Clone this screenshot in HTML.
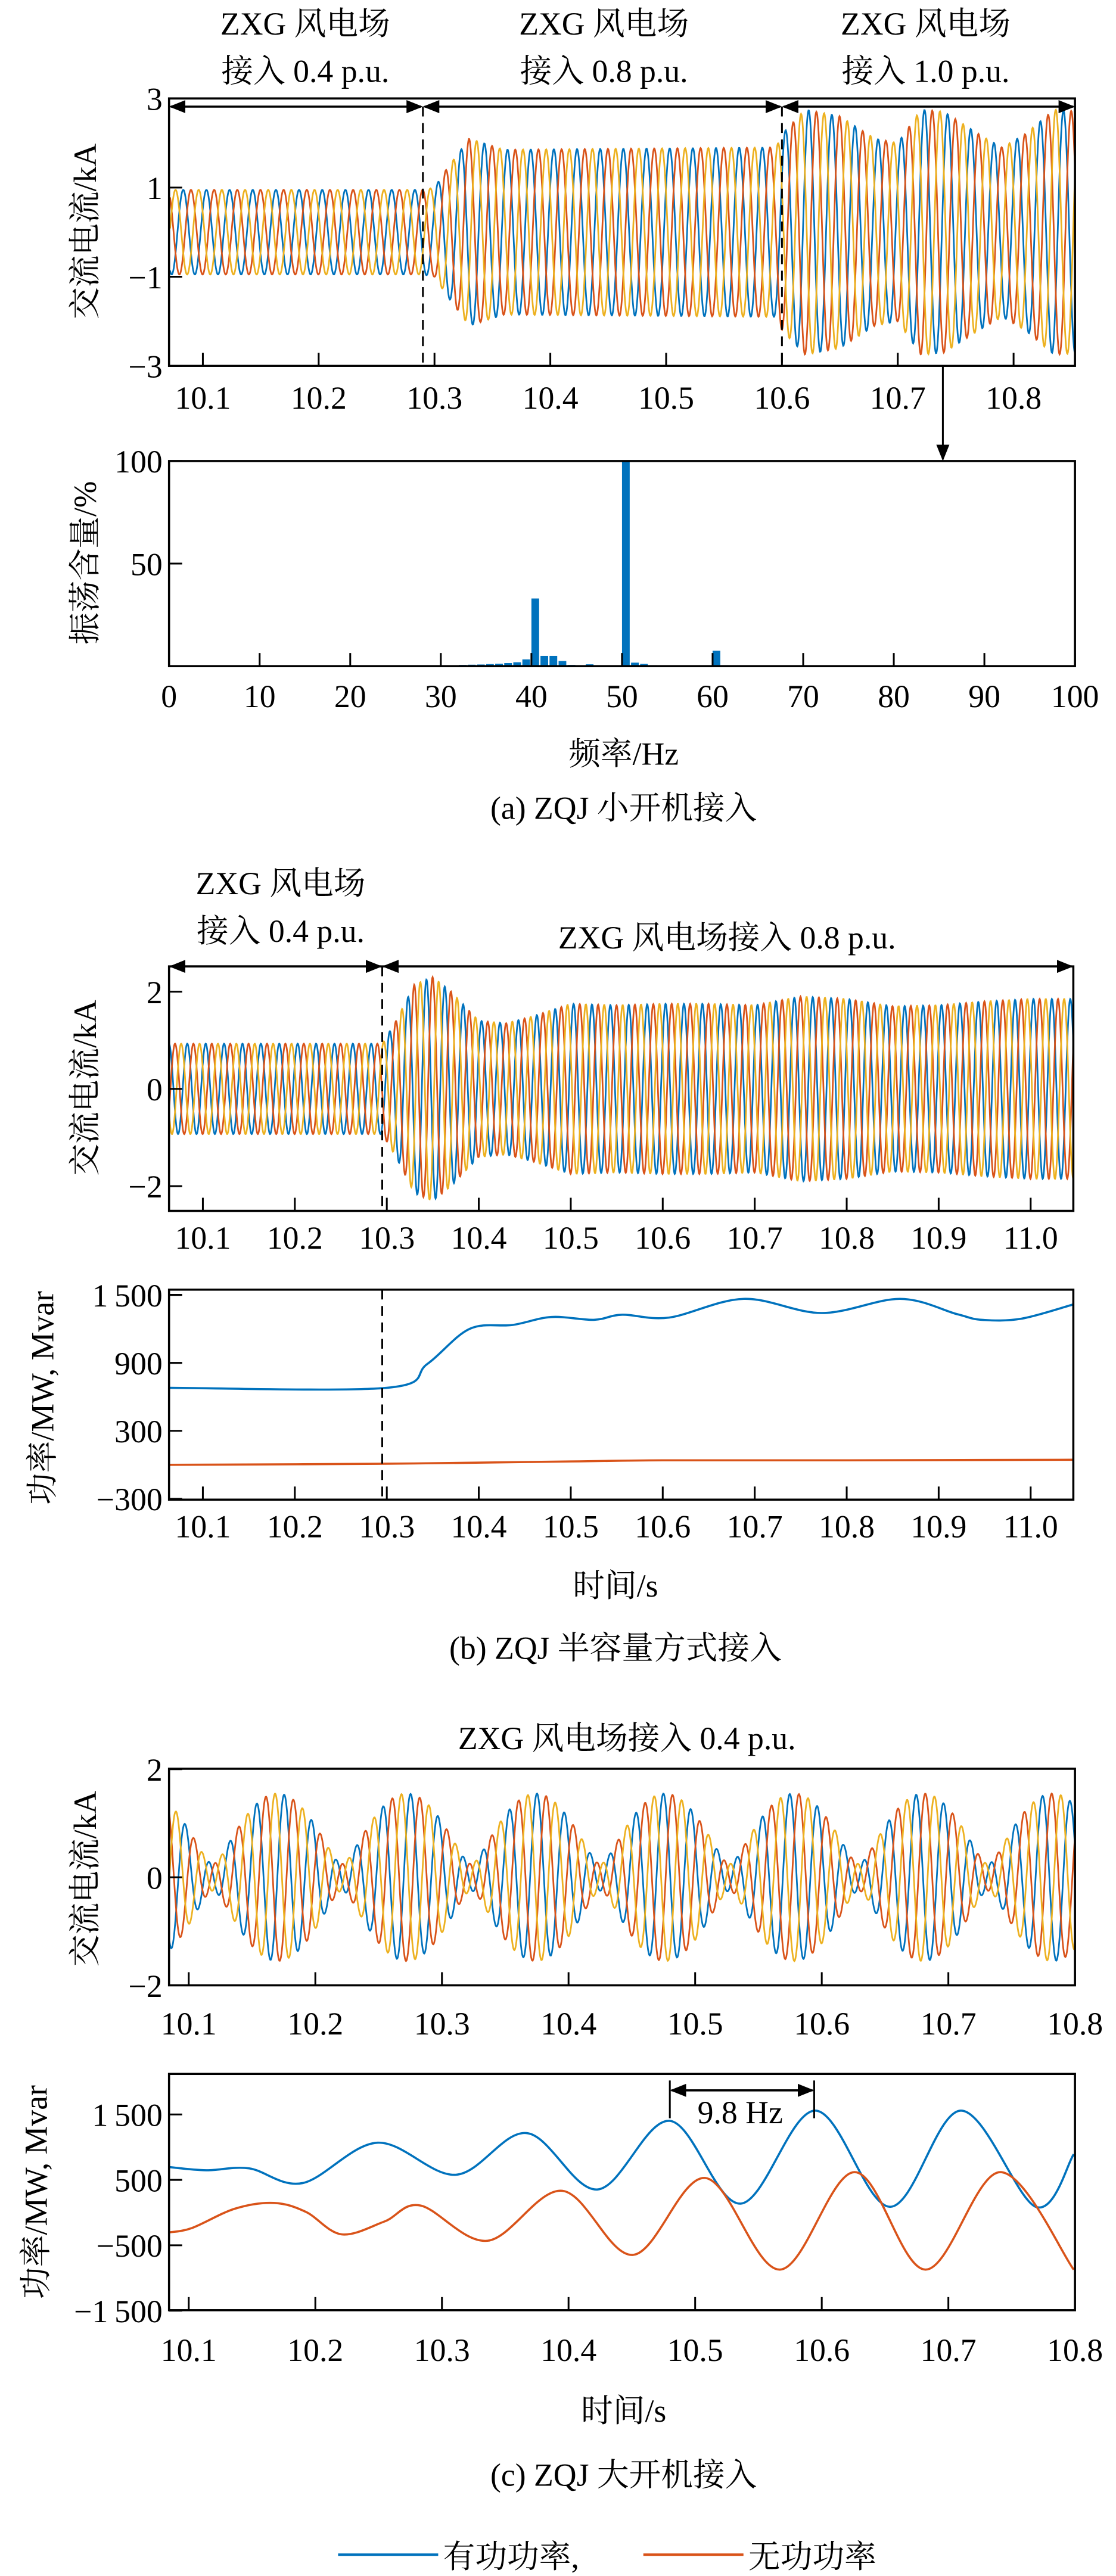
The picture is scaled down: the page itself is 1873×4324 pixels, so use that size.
<!DOCTYPE html>
<html><head><meta charset="utf-8"><style>
html,body{margin:0;padding:0;background:#fff;}
svg{display:block;font-family:"Liberation Serif","Noto Serif CJK SC",serif;}
svg text{font-family:"Liberation Serif","Noto Serif CJK SC",serif;fill:#000;font-size:19.5px;}
</style></head><body>
<svg id="fig" xmlns="http://www.w3.org/2000/svg" width="1873" height="4324" viewBox="0 0 680 1570" preserveAspectRatio="none" font-family="Liberation Serif, Noto Serif CJK SC, serif">
<defs>
<marker id="ah" markerWidth="10" markerHeight="8" refX="9" refY="4" orient="auto-start-reverse" markerUnits="userSpaceOnUse"><path d="M0,0 L10,4 L0,8 z" fill="#000"/></marker>
<clipPath id="cpA"><rect x="103" y="60" width="552" height="163"/></clipPath>
<clipPath id="cpB"><rect x="103" y="589" width="551" height="149"/></clipPath>
<clipPath id="cpC"><rect x="103" y="1078" width="552" height="132"/></clipPath>
</defs>
</svg>
<script>
// ---------- DATA ----------
const aTicksX=[10.1,10.2,10.3,10.4,10.5,10.6,10.7,10.8];
const aTicksY=[3,1,-1,-3];
const aEnvT=[10.07,10.29,10.3,10.31,10.33,10.36,10.595,10.6,10.62,10.65,10.68,10.7,10.72,10.74,10.77,10.79,10.81,10.835,10.86];
const aEnvA=[0.95,0.95,1.0,1.4,2.1,1.85,1.9,2.2,2.75,2.6,2.1,2.0,2.75,2.7,2.2,1.9,2.2,2.75,2.7];
const aDash=[10.29,10.6];
const fftFreq=[29,30,31,32,33,34,35,36,37,38,39,40,41,42,43,44,45,46,47,48,49,50,51,52,53,54,55,56,60,61,62,63];
const fftVal=[0.3,0.3,0.4,0.6,0.7,0.8,1.0,1.2,1.5,1.9,3.3,33,5,5,2.5,0.6,0.4,0.9,0.4,0.3,0.3,100,1.7,1.1,0.5,0.3,0.3,0.2,7.5,0.5,0.2,0.3];
const fftTicksX=[0,10,20,30,40,50,60,70,80,90,100];
const fftTicksY=[100,50];
const bTicksX=[10.1,10.2,10.3,10.4,10.5,10.6,10.7,10.8,10.9,11.0];
const bTicksY=[2,0,-2];
const bEnvT=[10.06,10.295,10.31,10.33,10.35,10.37,10.4,10.43,10.46,10.5,10.55,10.6,10.65,10.7,10.75,10.8,10.85,10.9,10.95,11.0,11.05];
const bEnvA=[0.93,0.93,1.4,2.15,2.3,2.0,1.4,1.35,1.5,1.75,1.72,1.75,1.75,1.72,1.9,1.85,1.7,1.72,1.8,1.85,1.85];
const bPTicksY=[1500,900,300,-300];
const bPT=[10.063,10.3,10.344,10.39,10.437,10.479,10.525,10.556,10.607,10.688,10.773,10.858,10.92,10.947,10.99,11.046];
const bPVal=[680,680,890,1200,1235,1305,1280,1325,1300,1465,1340,1465,1330,1280,1290,1415];
const bQT=[10.063,10.3,10.5,10.6,10.8,11.046];
const bQVal=[0,10,30,40,40,45];
const cTicksX=[10.1,10.2,10.3,10.4,10.5,10.6,10.7,10.8];
const cTicksY=[2,0,-2];
const cFreq=[50,40.2];
const cAmp=[0.9,0.65];
const cPTicksY=[1500,500,-500,-1500];
const cPT=[10.0842,10.1139,10.1477,10.19,10.249,10.311,10.367,10.423,10.48,10.536,10.595,10.654,10.71,10.769,10.799];
const cPVal=[696,647,676,451,1068,578,1215,353,1402,137,1559,88,1559,88,892];
const cQT=[10.0842,10.1027,10.1364,10.1673,10.1926,10.2207,10.2545,10.283,10.336,10.395,10.451,10.508,10.567,10.626,10.682,10.741,10.799];
const cQVal=[-304,-235,59,147,10,-333,-137,108,-431,333,-647,529,-872,618,-872,618,-872];
const hzMarks=[10.48,10.594];
// ---------- HELPERS ----------
const NS='http://www.w3.org/2000/svg';
const svg=document.getElementById('fig');
const COL=['#0072BD','#D95319','#EDB120'];
function el(tag,attrs,parent){const e=document.createElementNS(NS,tag);for(const k in attrs)e.setAttribute(k,attrs[k]);(parent||svg).appendChild(e);return e;}
function lin(d0,d1,r0,r1){return v=>r0+(v-d0)*(r1-r0)/(d1-d0);}
function txt(s,x,y,anchor,parent,name,rot){const t=el('text',{x:x,y:y,'text-anchor':anchor||'middle'},parent);t.textContent=s;


if(rot){t.setAttribute('transform','rotate(-90 '+x+' '+y+')');t.setAttribute('dominant-baseline','central');}return t;}
function fmt(v){let s=Math.abs(v)>=1000?(Math.abs(v)+'').replace(/(\d)(\d{3})$/,'$1\u2009$2'):Math.abs(v)+'';return (v<0?'\u2212':'')+s;}
function interp(T,A,t){if(t<=T[0])return A[0];for(let i=1;i<T.length;i++){if(t<=T[i]){const f=(t-T[i-1])/(T[i]-T[i-1]);return A[i-1]+f*(A[i]-A[i-1]);}}return A[A.length-1];}
function axesBox(g,x0,y0,x1,y1,xs,ys,xt,yt,xLabY,name,xfmt){
 const r=el('rect',{x:x0,y:y0,width:x1-x0,height:y1-y0,fill:'none',stroke:'#000','stroke-width':1.3},g);
 
 
 xt.forEach(v=>{const x=xs(v);el('line',{x1:x,x2:x,y1:y1,y2:y1-8,stroke:'#000','stroke-width':1.1},g);
  txt(xfmt?xfmt(v):v.toFixed(1),x,xLabY,'middle',g,name+'-x-tick-label');});
 yt.forEach(v=>{const y=ys(v);el('line',{x1:x0,x2:x0+8,y1:y,y2:y,stroke:'#000','stroke-width':1.1},g);
  txt(fmt(v),x0-4,y+7,'end',g,name+'-y-tick-label');});
}
function smoothPath(pts){let d='M'+pts[0][0]+','+pts[0][1];for(let i=0;i<pts.length-1;i++){const p0=pts[i-1]||pts[i],p1=pts[i],p2=pts[i+1],p3=pts[i+2]||p2;
 const c1=[p1[0]+(p2[0]-p0[0])/6,p1[1]+(p2[1]-p0[1])/6],c2=[p2[0]-(p3[0]-p1[0])/6,p2[1]-(p3[1]-p1[1])/6];
 d+=' C'+c1[0].toFixed(2)+','+c1[1].toFixed(2)+' '+c2[0].toFixed(2)+','+c2[1].toFixed(2)+' '+p2[0].toFixed(2)+','+p2[1].toFixed(2);}return d;}
function waveEnv(g,xs,ys,t0,t1,T,A,clip,name){
 const names=['phase-a','phase-b','phase-c'];
 for(let p=0;p<3;p++){let d='';const ph=[0,-2*Math.PI/3,2*Math.PI/3][p];
  for(let t=t0;t<=t1;t+=0.0004){const v=interp(T,A,t)*Math.sin(2*Math.PI*50*t+ph+0.6);d+=(d?'L':'M')+xs(t).toFixed(2)+','+ys(v).toFixed(2);}
  const pa=el('path',{d:d,fill:'none',stroke:COL[p],'stroke-width':1.0,'clip-path':'url(#'+clip+')'},g);
  
  }
}
function arrowLine(g,x1,x2,y,name){const l=el('line',{x1:x1+1,x2:x2-1,y1:y,y2:y,stroke:'#000','stroke-width':1.3,'marker-start':'url(#ah)','marker-end':'url(#ah)'},g);
 
 }
// ---------- PANEL A ----------
const gA=el('g',{});


const axA=lin(10.1,10.8,123.6,617.6), ayA=lin(3,-3,60,223);
waveEnv(gA,axA,ayA,10.0717,10.854,aEnvT,aEnvA,'cpA','panel-a-current');
axesBox(gA,103,60,655,223,axA,ayA,aTicksX,aTicksY,249,'panel-a-current');
aDash.forEach(t=>{const l=el('line',{x1:axA(t),x2:axA(t),y1:65,y2:223,stroke:'#000','stroke-width':1.1,'stroke-dasharray':'6,4'},gA);
 
 });
const segA=[103,axA(aDash[0]),axA(aDash[1]),655];
const segLab=['0.4','0.8','1.0'];
for(let i=0;i<3;i++){arrowLine(gA,segA[i],segA[i+1],65,'stage-arrow');
 const cx=[186,368,564][i];
 txt('ZXG 风电场',cx,21,'middle',gA,'stage-label-line1');
 txt('接入 '+segLab[i]+' p.u.',cx,50,'middle',gA,'stage-label-line2');}
txt('交流电流/kA',52,141,'middle',gA,'y-axis-title',true);
const ar=el('line',{x1:574.5,x2:574.5,y1:223,y2:280,stroke:'#000','stroke-width':1.1,'marker-end':'url(#ah)'},gA);


// FFT
const fx=lin(0,100,103,655), fy=lin(0,100,406,281);
fftFreq.forEach((f,i)=>{const b=el('rect',{x:fx(f),y:fy(fftVal[i]),width:fx(0.85)-fx(0),height:fy(0)-fy(fftVal[i]),fill:'#0072BD'},gA);
 
 });
axesBox(gA,103,281,655,406,fx,fy,fftTicksX,fftTicksY,431,'fft',v=>String(v));
txt('振荡含量/%',52,343,'middle',gA,'fft-y-axis-title',true);
txt('频率/Hz',380,466,'middle',gA,'fft-x-axis-title');
txt('(a)  ZQJ 小开机接入',380,499,'middle',gA,'caption-a');
// ---------- PANEL B ----------
const gB=el('g',{});


const axB=lin(10.1,11.0,123.6,628), ayB=lin(2,-2,604.4,722.9);
waveEnv(gB,axB,ayB,10.063,11.047,bEnvT,bEnvA,'cpB','panel-b-current');
axesBox(gB,103,589,654,738,axB,ayB,bTicksX,bTicksY,761,'panel-b-current');
const bSw=10.295;
const dl=el('line',{x1:axB(bSw),x2:axB(bSw),y1:589,y2:738,stroke:'#000','stroke-width':1.1,'stroke-dasharray':'6,4'},gB);


arrowLine(gB,103,axB(bSw),589,'stage-arrow');
arrowLine(gB,axB(bSw),654,589,'stage-arrow');
txt('ZXG 风电场',171,545,'middle',gB,'stage-label-line1');
txt('接入 0.4 p.u.',171,574,'middle',gB,'stage-label-line2');
txt('ZXG 风电场接入 0.8 p.u.',443,578,'middle',gB,'stage-label');
txt('交流电流/kA',52,663,'middle',gB,'y-axis-title',true);
const pyB=lin(1500,-300,789.2,913.5);
const pB=el('path',{d:smoothPath(bPT.map((t,i)=>[axB(t),pyB(bPVal[i])])),fill:'none',stroke:COL[0],'stroke-width':1.3},gB);


const qB=el('path',{d:smoothPath(bQT.map((t,i)=>[axB(t),pyB(bQVal[i])])),fill:'none',stroke:COL[1],'stroke-width':1.3},gB);


axesBox(gB,103,786,654,914,axB,pyB,bTicksX,bPTicksY,937,'panel-b-power');
const dl2=el('line',{x1:axB(bSw),x2:axB(bSw),y1:786,y2:914,stroke:'#000','stroke-width':1.1,'stroke-dasharray':'6,4'},gB);


txt('功率/MW, Mvar',26,852,'middle',gB,'power-y-axis-title',true);
txt('时间/s',375,973,'middle',gB,'x-axis-title');
txt('(b)  ZQJ 半容量方式接入',375,1011,'middle',gB,'caption-b');
// ---------- PANEL C ----------
const gC=el('g',{});


const axC=lin(10.1,10.8,115,655), ayC=lin(2,-2,1078.3,1210);
['phase-a','phase-b','phase-c'].forEach((nm,p)=>{const ph=[0,-2*Math.PI/3,2*Math.PI/3][p];let d='';
 for(let t=10.0844;t<=10.801;t+=0.0004){let v=0;for(let k=0;k<cFreq.length;k++)v+=cAmp[k]*Math.sin(2*Math.PI*cFreq[k]*(t-10.17)+ph);
  d+=(d?'L':'M')+axC(t).toFixed(2)+','+ayC(v).toFixed(2);}
 const pa=el('path',{d:d,fill:'none',stroke:COL[p],'stroke-width':1.0,'clip-path':'url(#cpC)'},gC);
 
 });
axesBox(gC,103,1078,655,1210,axC,ayC,cTicksX,cTicksY,1240,'panel-c-current');
txt('ZXG 风电场接入 0.4 p.u.',382,1066,'middle',gC,'panel-c-title');
txt('交流电流/kA',52,1145,'middle',gC,'y-axis-title',true);
const pyC=lin(1500,-1500,1288.7,1408.3);
const pC=el('path',{d:smoothPath(cPT.map((t,i)=>[axC(t),pyC(cPVal[i])])),fill:'none',stroke:COL[0],'stroke-width':1.3},gC);


const qC=el('path',{d:smoothPath(cQT.map((t,i)=>[axC(t),pyC(cQVal[i])])),fill:'none',stroke:COL[1],'stroke-width':1.3},gC);


axesBox(gC,103,1264,655,1408,axC,pyC,cTicksX,cPTicksY,1439,'panel-c-power');
hzMarks.forEach(t=>{const l=el('line',{x1:axC(t),x2:axC(t),y1:1268,y2:1291,stroke:'#000','stroke-width':1.1},gC);
 
 });
arrowLine(gC,axC(hzMarks[0]),axC(hzMarks[1]),1274,'period-arrow');
txt('9.8 Hz',451,1294,'middle',gC,'period-label');
txt('功率/MW, Mvar',22,1336,'middle',gC,'power-y-axis-title',true);
txt('时间/s',380,1476,'middle',gC,'x-axis-title');
txt('(c)  ZQJ 大开机接入',380,1515,'middle',gC,'caption-c');
// ---------- LEGEND ----------
const gL=el('g',{});


const l1=el('line',{x1:206,x2:267,y1:1557,y2:1557,stroke:COL[0],'stroke-width':1.5},gL);


txt('有功功率,',270,1565,'start',gL,'legend-active-label');
const l2=el('line',{x1:392,x2:453,y1:1557,y2:1557,stroke:COL[1],'stroke-width':1.5},gL);


txt('无功功率',456,1565,'start',gL,'legend-reactive-label');
</script>
</body></html>
